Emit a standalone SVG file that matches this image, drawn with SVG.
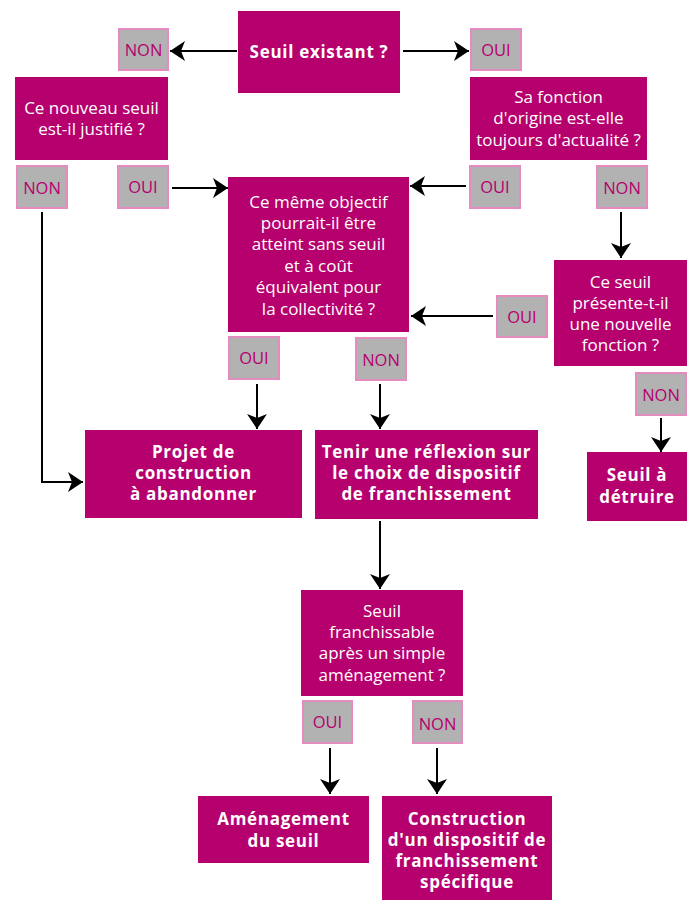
<svg xmlns="http://www.w3.org/2000/svg" width="694" height="902" viewBox="0 0 694 902">
<defs>
<style>
.box{fill:#B5006E}
.lab{fill:#B2B2B2;stroke:#E48BC0;stroke-width:2}
.q{font-family:"Open Sans","Noto Sans",sans-serif;font-size:17px;fill:#fff;text-anchor:middle}
.b{font-family:"Open Sans","Noto Sans",sans-serif;font-size:17px;letter-spacing:0.7px;font-weight:bold;fill:#fff;text-anchor:middle}
.l{font-family:"Open Sans","Noto Sans",sans-serif;font-size:16.5px;fill:#B5006E;text-anchor:middle}
.c{fill:none;stroke:#000;stroke-width:2;marker-end:url(#ah)}
</style>
<marker id="ah" markerUnits="userSpaceOnUse" markerWidth="15" markerHeight="20" viewBox="0 0 15 20" refX="15" refY="10" orient="auto">
<path d="M0,0 L15,10 L0,20 L4,10 z" fill="#000"/>
</marker>
</defs>
<g id="connectors">
<line class="c" x1="237" y1="51" x2="170" y2="51"/>
<line class="c" x1="403" y1="51" x2="469" y2="51"/>
<line class="c" x1="172" y1="188" x2="228" y2="188"/>
<line class="c" x1="466" y1="186" x2="410" y2="186"/>
<line class="c" x1="621" y1="212" x2="621" y2="258"/>
<line class="c" x1="493" y1="316" x2="411" y2="316"/>
<line class="c" x1="257" y1="384" x2="257" y2="429"/>
<line class="c" x1="380" y1="384" x2="380" y2="429"/>
<polyline class="c" points="42,212 42,482 83,482"/>
<line class="c" x1="661" y1="418" x2="661" y2="452"/>
<line class="c" x1="380" y1="521" x2="380" y2="589"/>
<line class="c" x1="330" y1="748" x2="330" y2="794"/>
<line class="c" x1="437" y1="748" x2="437" y2="794"/>
</g>
<g id="n-seuil-existant"><rect class="box" x="238" y="11" width="162" height="82"/><text class="b" x="319" y="58">Seuil existant ?</text></g>
<g id="l-non1"><rect class="lab" x="119" y="29" width="49" height="41"/><text class="l" x="143.5" y="56">NON</text></g>
<g id="l-oui1"><rect class="lab" x="471" y="29" width="50" height="41"/><text class="l" x="496" y="56">OUI</text></g>
<g id="n-nouveau"><rect class="box" x="15" y="77" width="153" height="83"/><text class="q"><tspan x="91.5" y="114">Ce nouveau seuil</tspan><tspan x="91.5" y="135">est-il justifié ?</tspan></text></g>
<g id="n-fonction"><rect class="box" x="470" y="77" width="177" height="83"/><text class="q"><tspan x="558.5" y="103">Sa fonction</tspan><tspan x="558.5" y="124">d'origine est-elle</tspan><tspan x="558.5" y="146">toujours d'actualité ?</tspan></text></g>
<g id="l-non2"><rect class="lab" x="17" y="166" width="50" height="42"/><text class="l" x="42" y="194">NON</text></g>
<g id="l-oui2"><rect class="lab" x="118" y="166" width="50" height="42"/><text class="l" x="143" y="193">OUI</text></g>
<g id="l-oui3"><rect class="lab" x="470" y="166" width="50" height="42"/><text class="l" x="495" y="193">OUI</text></g>
<g id="l-non3"><rect class="lab" x="597" y="166" width="50" height="42"/><text class="l" x="622" y="194">NON</text></g>
<g id="n-objectif"><rect class="box" x="228" y="177" width="181" height="155"/>
<text class="q"><tspan x="318.5" y="208">Ce même objectif</tspan><tspan x="318.5" y="229">pourrait-il être</tspan><tspan x="318.5" y="250">atteint sans seuil</tspan><tspan x="318.5" y="272">et à coût</tspan><tspan x="318.5" y="293">équivalent pour</tspan><tspan x="318.5" y="315">la collectivité ?</tspan></text></g>
<g id="n-nouvelle"><rect class="box" x="554" y="260" width="133" height="106"/>
<text class="q"><tspan x="620.5" y="288">Ce seuil</tspan><tspan x="620.5" y="309">présente-t-il</tspan><tspan x="620.5" y="330">une nouvelle</tspan><tspan x="620.5" y="351">fonction ?</tspan></text></g>
<g id="l-oui4"><rect class="lab" x="497" y="296" width="50" height="41"/><text class="l" x="522" y="323">OUI</text></g>
<g id="l-oui5"><rect class="lab" x="229" y="337" width="50" height="42"/><text class="l" x="254" y="364">OUI</text></g>
<g id="l-non4"><rect class="lab" x="356" y="338" width="50" height="42"/><text class="l" x="381" y="366">NON</text></g>
<g id="l-non5"><rect class="lab" x="636" y="373" width="50" height="42"/><text class="l" x="661" y="401">NON</text></g>
<g id="n-abandonner"><rect class="box" x="85" y="430" width="217" height="88"/>
<text class="b"><tspan x="193.5" y="458">Projet de</tspan><tspan x="193.5" y="479">construction</tspan><tspan x="193.5" y="500">à abandonner</tspan></text></g>
<g id="n-reflexion"><rect class="box" x="315" y="430" width="223" height="89"/>
<text class="b"><tspan x="426.5" y="458">Tenir une réflexion sur</tspan><tspan x="426.5" y="479">le choix de dispositif</tspan><tspan x="426.5" y="500">de franchissement</tspan></text></g>
<g id="n-detruire"><rect class="box" x="587" y="452" width="100" height="69"/>
<text class="b"><tspan x="637" y="481">Seuil à</tspan><tspan x="637" y="503">détruire</tspan></text></g>
<g id="n-franchissable"><rect class="box" x="301" y="590" width="162" height="106"/>
<text class="q"><tspan x="382" y="617">Seuil</tspan><tspan x="382" y="638">franchissable</tspan><tspan x="382" y="659">après un simple</tspan><tspan x="382" y="681">aménagement ?</tspan></text></g>
<g id="l-oui6"><rect class="lab" x="303" y="701" width="49" height="42"/><text class="l" x="327.5" y="728">OUI</text></g>
<g id="l-non6"><rect class="lab" x="413" y="701" width="49" height="42"/><text class="l" x="437.5" y="730">NON</text></g>
<g id="n-amenagement"><rect class="box" x="198" y="796" width="171" height="67"/>
<text class="b"><tspan x="283.5" y="825">Aménagement</tspan><tspan x="283.5" y="847">du seuil</tspan></text></g>
<g id="n-construction"><rect class="box" x="382" y="796" width="170" height="104"/>
<text class="b"><tspan x="467" y="825">Construction</tspan><tspan x="467" y="846">d'un dispositif de</tspan><tspan x="467" y="867">franchissement</tspan><tspan x="467" y="888">spécifique</tspan></text></g>
</svg>
